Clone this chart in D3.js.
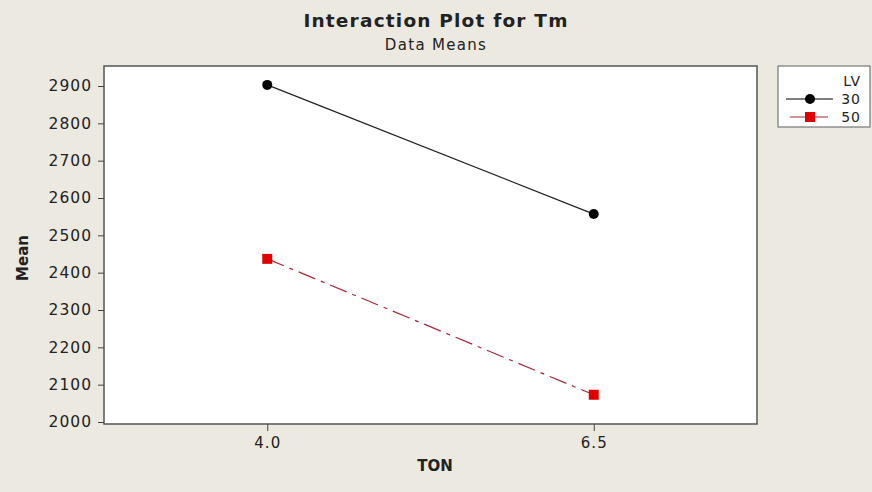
<!DOCTYPE html>
<head>
  <meta charset="utf-8">
  <script src="https://d3js.org/d3.v7.min.js"></script>
  <style>
    body { margin: 0; background: #ece9e0; }
    text { font-family: "DejaVu Sans", sans-serif; fill: #222; }
  </style>
</head>
<body>
<svg width="872" height="492"></svg>
<script>

  let tonLevels = ["4.0", "6.5"],
    lv30 = [2903, 2557],
    lv50 = [2437, 2073],
    yTicks = [2000, 2100, 2200, 2300, 2400, 2500, 2600, 2700, 2800, 2900];

  let svg = d3.select("svg"),
    plotLeft = 104, plotRight = 757, plotTop = 66, plotBottom = 424;

  svg.append("rect").attr("width", 872).attr("height", 492).attr("fill", "#ece9e0");

  let x = d3.scalePoint().domain(tonLevels).range([plotLeft, plotRight]).padding(0.5),
    y = d3.scaleLinear().domain([2000, 2900]).range([422, 86]);

  svg.append("rect")
    .attr("x", plotLeft).attr("y", plotTop)
    .attr("width", plotRight - plotLeft).attr("height", plotBottom - plotTop)
    .attr("fill", "#fff").attr("stroke", "#555").attr("stroke-width", 1.5);

  // y axis
  let yAxis = svg.append("g")
    .attr("transform", "translate(" + plotLeft + ",0)")
    .call(d3.axisLeft(y).tickValues(yTicks).tickSize(6).tickPadding(6).tickFormat(d3.format("d")));
  yAxis.select(".domain").remove();
  yAxis.selectAll("line").attr("stroke", "#444");
  yAxis.selectAll("text").style("font-size", "15.5px").style("letter-spacing", "1px").attr("fill", "#222");

  // x axis
  let xAxis = svg.append("g")
    .attr("transform", "translate(0," + plotBottom + ")")
    .call(d3.axisBottom(x).tickSize(7).tickPadding(6));
  xAxis.select(".domain").remove();
  xAxis.selectAll("line").attr("stroke", "#444");
  xAxis.selectAll("text").style("font-size", "15px").style("letter-spacing", "1px").attr("fill", "#222");

  // titles
  svg.append("text").attr("x", 436).attr("y", 27).attr("text-anchor", "middle")
    .style("font-size", "18.5px").style("font-weight", "bold").style("letter-spacing", "1.2px")
    .text("Interaction Plot for Tm");
  svg.append("text").attr("x", 436).attr("y", 50).attr("text-anchor", "middle")
    .style("font-size", "15px").style("letter-spacing", "1.3px")
    .text("Data Means");
  svg.append("text").attr("x", 435).attr("y", 471).attr("text-anchor", "middle")
    .style("font-size", "15px").style("font-weight", "bold")
    .text("TON");
  svg.append("text").attr("transform", "translate(28,258) rotate(-90)").attr("text-anchor", "middle")
    .style("font-size", "15px").style("font-weight", "bold")
    .text("Mean");

  let line = d3.line().x(function (d, i) { return x(tonLevels[i]); }).y(function (d) { return y(d); });

  svg.append("path").datum(lv30).attr("d", line)
    .attr("fill", "none").attr("stroke", "#222").attr("stroke-width", 1.3);
  svg.append("path").datum(lv50).attr("d", line)
    .attr("fill", "none").attr("stroke", "#a8283a").attr("stroke-width", 1.2)
    .attr("stroke-dasharray", "18,6,4,6");

  svg.selectAll(".dot30").data(lv30).enter().append("circle")
    .attr("cx", function (d, i) { return x(tonLevels[i]); })
    .attr("cy", function (d) { return y(d); })
    .attr("r", 5).attr("fill", "#000");
  svg.selectAll(".sq50").data(lv50).enter().append("rect")
    .attr("x", function (d, i) { return x(tonLevels[i]) - 5; })
    .attr("y", function (d) { return y(d) - 5; })
    .attr("width", 10).attr("height", 10).attr("fill", "#e00000");

  // legend
  let lg = svg.append("g");
  lg.append("rect").attr("x", 778).attr("y", 66).attr("width", 92).attr("height", 61)
    .attr("fill", "#fff").attr("stroke", "#777").attr("stroke-width", 1.2);
  lg.append("text").attr("x", 861).attr("y", 86).attr("text-anchor", "end")
    .style("font-size", "14px").style("letter-spacing", "1px").text("LV");
  lg.append("line").attr("x1", 786).attr("x2", 833).attr("y1", 99).attr("y2", 99)
    .attr("stroke", "#000").attr("stroke-width", 1.2);
  lg.append("circle").attr("cx", 810).attr("cy", 99).attr("r", 5).attr("fill", "#000");
  lg.append("text").attr("x", 861).attr("y", 104).attr("text-anchor", "end")
    .style("font-size", "14px").style("letter-spacing", "1px").text("30");
  lg.append("line").attr("x1", 790).attr("x2", 828).attr("y1", 117).attr("y2", 117)
    .attr("stroke", "#a8283a").attr("stroke-width", 1.2);
  lg.append("rect").attr("x", 805).attr("y", 112).attr("width", 10).attr("height", 10).attr("fill", "#e00000");
  lg.append("text").attr("x", 861).attr("y", 122).attr("text-anchor", "end")
    .style("font-size", "14px").style("letter-spacing", "1px").text("50");

</script>
</body>
